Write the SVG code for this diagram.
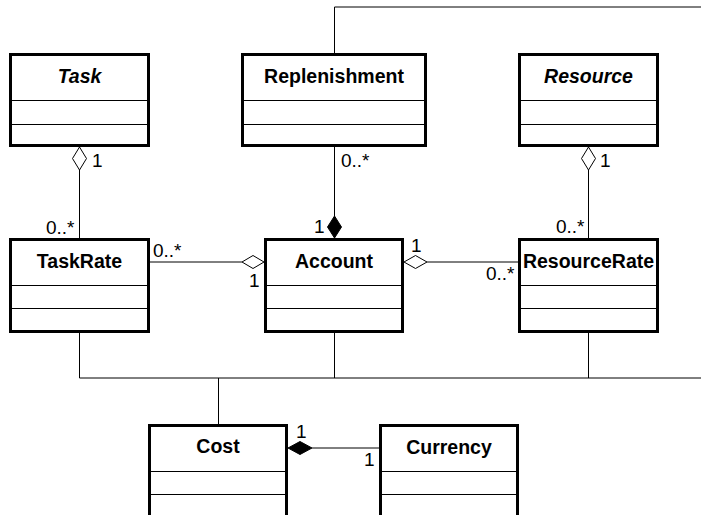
<svg xmlns="http://www.w3.org/2000/svg" width="701" height="515" viewBox="0 0 701 515">
  <style>
    .box { fill: #fff; stroke: #000; stroke-width: 3; }
    .sep { stroke: #000; stroke-width: 1; }
    .title { font-family: "Liberation Sans", Arial, sans-serif; font-size: 19.5px; font-weight: bold; text-anchor: middle; fill: #000; }
    .abstract { font-style: italic; }
    .mult { font-family: "Liberation Sans", Arial, sans-serif; font-size: 19px; fill: #000; }
    .edge { stroke: #000; stroke-width: 1; fill: none; }
    .agg { fill: #fff; stroke: #000; stroke-width: 1; }
    .comp { fill: #000; stroke: #000; stroke-width: 1; }
  </style>
  <rect width="701" height="515" fill="#fff"/>

  <!-- associations -->
  <g id="connectors">
    <!-- Replenishment loop along top -->
    <polyline class="edge" points="334.5,53 334.5,7 701,7"/>
    <!-- Task - TaskRate -->
    <line class="edge" x1="79.5" y1="170" x2="79.5" y2="238"/>
    <polygon class="agg" points="79.5,147 86.5,158.5 79.5,170 72.5,158.5"/>
    <!-- Resource - ResourceRate -->
    <line class="edge" x1="588.5" y1="170" x2="588.5" y2="238"/>
    <polygon class="agg" points="588.5,147 595.5,158.5 588.5,170 581.5,158.5"/>
    <!-- Replenishment - Account -->
    <line class="edge" x1="334.5" y1="147" x2="334.5" y2="216"/>
    <polygon class="comp" points="334.5,216 341.5,227 334.5,238 327.5,227"/>
    <!-- TaskRate - Account -->
    <line class="edge" x1="150" y1="262" x2="242" y2="262"/>
    <polygon class="agg" points="264,262 253,268.5 242,262 253,255.5"/>
    <!-- Account - ResourceRate -->
    <line class="edge" x1="427" y1="262" x2="518" y2="262"/>
    <polygon class="agg" points="404,262 415.5,255.5 427,262 415.5,268.5"/>
    <!-- Cost links -->
    <line class="edge" x1="79.5" y1="333" x2="79.5" y2="378"/>
    <line class="edge" x1="334.5" y1="333" x2="334.5" y2="378"/>
    <line class="edge" x1="588.5" y1="333" x2="588.5" y2="378"/>
    <line class="edge" x1="79.5" y1="378" x2="701" y2="378"/>
    <line class="edge" x1="218.5" y1="378" x2="218.5" y2="424"/>
    <!-- Cost - Currency -->
    <line class="edge" x1="312" y1="448" x2="379" y2="448"/>
    <polygon class="comp" points="288,448 300,441.5 312,448 300,454.5"/>

    <!-- multiplicities -->
    <text class="mult" x="92" y="167">1</text>
    <text class="mult" x="46" y="234">0..*</text>
    <text class="mult" x="341" y="167">0..*</text>
    <text class="mult" x="314" y="233">1</text>
    <text class="mult" x="600" y="167">1</text>
    <text class="mult" x="556" y="233">0..*</text>
    <text class="mult" x="153" y="257">0..*</text>
    <text class="mult" x="249" y="287">1</text>
    <text class="mult" x="411" y="252">1</text>
    <text class="mult" x="486" y="280">0..*</text>
    <text class="mult" x="296" y="438">1</text>
    <text class="mult" x="364" y="466">1</text>
  </g>

  <g id="Task">
    <rect class="box" x="10.5" y="54.5" width="138" height="91"/>
    <line class="sep" x1="10" y1="100.5" x2="149" y2="100.5"/>
    <line class="sep" x1="10" y1="124.5" x2="149" y2="124.5"/>
    <text class="title abstract" x="79.5" y="83">Task</text>
  </g>
  <g id="Replenishment">
    <rect class="box" x="242.5" y="54.5" width="183" height="91"/>
    <line class="sep" x1="242" y1="100.5" x2="426" y2="100.5"/>
    <line class="sep" x1="242" y1="124.5" x2="426" y2="124.5"/>
    <text class="title" x="334" y="83">Replenishment</text>
  </g>
  <g id="Resource">
    <rect class="box" x="519.5" y="54.5" width="138" height="91"/>
    <line class="sep" x1="519" y1="100.5" x2="658" y2="100.5"/>
    <line class="sep" x1="519" y1="124.5" x2="658" y2="124.5"/>
    <text class="title abstract" x="588.5" y="83">Resource</text>
  </g>
  <g id="TaskRate">
    <rect class="box" x="10.5" y="239.5" width="138" height="92"/>
    <line class="sep" x1="10" y1="285.5" x2="149" y2="285.5"/>
    <line class="sep" x1="10" y1="308.5" x2="149" y2="308.5"/>
    <text class="title" x="79.5" y="268">TaskRate</text>
  </g>
  <g id="Account">
    <rect class="box" x="265.5" y="239.5" width="137" height="92"/>
    <line class="sep" x1="265" y1="285.5" x2="403" y2="285.5"/>
    <line class="sep" x1="265" y1="308.5" x2="403" y2="308.5"/>
    <text class="title" x="334" y="268">Account</text>
  </g>
  <g id="ResourceRate">
    <rect class="box" x="519.5" y="239.5" width="138" height="92"/>
    <line class="sep" x1="519" y1="285.5" x2="658" y2="285.5"/>
    <line class="sep" x1="519" y1="308.5" x2="658" y2="308.5"/>
    <text class="title" x="588.5" y="268">ResourceRate</text>
  </g>
  <g id="Cost">
    <rect class="box" x="149.5" y="425.5" width="137" height="92"/>
    <line class="sep" x1="149" y1="471.5" x2="287" y2="471.5"/>
    <line class="sep" x1="149" y1="494.5" x2="287" y2="494.5"/>
    <text class="title" x="218" y="453">Cost</text>
  </g>
  <g id="Currency">
    <rect class="box" x="380.5" y="425.5" width="137" height="92"/>
    <line class="sep" x1="380" y1="471.5" x2="518" y2="471.5"/>
    <line class="sep" x1="380" y1="494.5" x2="518" y2="494.5"/>
    <text class="title" x="449" y="454">Currency</text>
  </g>
</svg>
